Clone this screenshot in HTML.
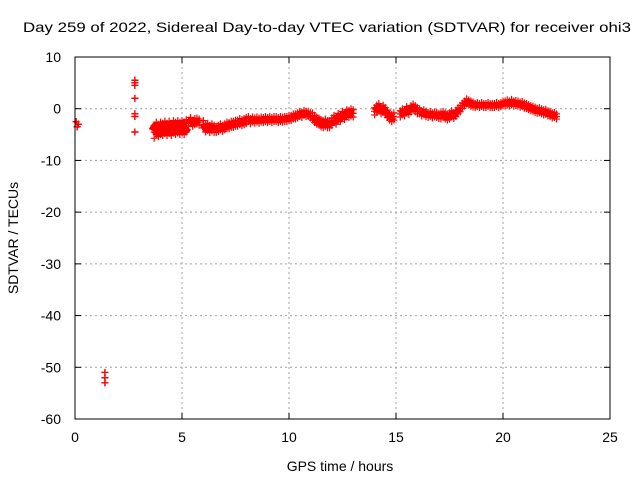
<!DOCTYPE html>
<html><head><meta charset="utf-8"><style>
body{margin:0;background:#fff}
svg text{font-family:"Liberation Sans",sans-serif;font-size:14px;fill:#000}
</style></head><body>
<svg id="c" width="640" height="480" xmlns="http://www.w3.org/2000/svg">
<rect width="640" height="480" fill="#fff"/>
<text x="327" y="32" text-anchor="middle" textLength="608" lengthAdjust="spacingAndGlyphs">Day 259 of 2022, Sidereal Day-to-day VTEC variation (SDTVAR) for receiver ohi3</text>
<text x="340" y="471" text-anchor="middle">GPS time / hours</text>
<text transform="translate(18,238) rotate(-90)" text-anchor="middle">SDTVAR / TECUs</text>
<g id="grid"></g><g id="ticks"></g><g id="pts"></g>
<rect x="75" y="57" width="535" height="362" fill="none" stroke="#000"/>
</svg>
<script>
const xTicks=[0,5,10,15,20,25];
const yTicks=[10,0,-10,-20,-30,-40,-50,-60];
const segStarts=[0.05,1.4,2.8,3.7,5.3,6.0,6.6,8.1,10.1,11.1,12.1,14.0,15.2,16.1,17.1,18.1,18.7,20.1,21.1];
const segSteps=[0.05,0,0,0.1,0.1,0.1,0.1,0.1,0.1,0.1,0.1,0.1,0.1,0.1,0.1,0.1,0.1,0.1,0.1];
const segSpread=[0,0,0,1.2,0.6,0.7,0.6,0.5,0.5,0.7,0.7,0.7,0.6,0.5,0.6,0.5,0.4,0.5,0.5];
const segValues=[
[-2.5,-3.5,-3],
[-51,-52,-53],
[5.5,5,4.5,2,-1,-1.5,-4.5],
[-4.5,-3.8,-4.2,-3.8,-4,-3.6,-4,-3.6,-4,-3.5,-3.8,-3.5,-3.8,-3.5,-3.8,-3.3],
[-2.8,-2.3,-2.8,-2.5,-2.4,-2.6],
[-3,-3.8,-3.5,-3.9,-3.6,-3.9],
[-4,-3.8,-3.5,-3.8,-3.5,-3.2,-3.3,-3,-3,-2.8,-2.8,-2.5,-2.7,-2.5,-2.3],
[-2,-2.4,-2.1,-2.3,-2.1,-2.3,-2.1,-2.2,-2,-2.2,-2,-2.2,-2,-2,-2.2,-2,-2.1,-2,-2,-1.8],
[-1.8,-1.5,-1.5,-1.3,-1,-1.2,-0.8,-1,-1,-1.3],
[-1.5,-2,-2.3,-2.5,-2.8,-3,-2.7,-3,-3,-2.5],
[-2,-2.3,-1.6,-1.8,-1.2,-1.4,-0.9,-1,-0.7,-0.9],
[-0.5,0,0.3,-0.3,0,-0.5,-1,-1.5,-1.8,-1.5],
[-1,-0.6,-0.8,-0.2,-0.5,0,0.3,0,-0.4],
[-0.5,-0.9,-0.7,-1,-1.2,-1,-1.3,-1.1,-1.2,-1.4],
[-1.4,-1.1,-1.4,-1.6,-1.4,-1,-1.3,-0.9,-0.4,0],
[0.6,1,1.4,1.2,1,0.8],
[0.6,0.8,0.6,0.8,0.6,0.6,0.8,0.6,0.6,0.6,0.8,0.6,0.8,1],
[1,1.2,1,1.3,1,1.1,1,0.8,0.9,0.6],
[0.5,0.3,0.1,0,-0.2,-0.4,-0.3,-0.5,-0.7,-0.6,-0.9,-1,-1.3,-1.2,-1.5]
];
const NS="http://www.w3.org/2000/svg";
const X0=75,X1=610,Y0=419,Y1=57;
function sx(v){return X0+(v-0)/(25-0)*(X1-X0);}
function sy(v){return Y0-(v+60)/(70)*(Y0-Y1);}
function mk(t,a,p){const e=document.createElementNS(NS,t);for(const k in a)e.setAttribute(k,a[k]);p.appendChild(e);return e;}
const grid=document.getElementById('grid'),ticks=document.getElementById('ticks'),pts=document.getElementById('pts');
xTicks.forEach(v=>{const x=sx(v);
 if(v>0&&v<25){const g=mk('line',{x1:x,x2:x,y1:Y1,y2:Y0,stroke:'#a0a0a0','stroke-dasharray':'2,3'},grid);
 
 }
 mk('line',{x1:x,x2:x,y1:Y0,y2:Y0-6,stroke:'#000'},ticks);
 mk('line',{x1:x,x2:x,y1:Y1,y2:Y1+6,stroke:'#000'},ticks);
 const t=mk('text',{x:x,y:Y0+23,'text-anchor':'middle'},ticks);t.textContent=v;
 
 
});
yTicks.forEach(v=>{const y=sy(v);
 if(v<10&&v>-60){const g=mk('line',{x1:X0,x2:X1,y1:y,y2:y,stroke:'#a0a0a0','stroke-dasharray':'2,3'},grid);
 
 }
 mk('line',{x1:X0,x2:X0+6,y1:y,y2:y,stroke:'#000'},ticks);
 mk('line',{x1:X1,x2:X1-6,y1:y,y2:y,stroke:'#000'},ticks);
 const t=mk('text',{x:X0-14,y:y+5,'text-anchor':'end'},ticks);t.textContent=v;
 
 
});
segValues.forEach((ys,si)=>{
 const sp=segSpread[si];
 if(sp>0){
  const d=ys.map((v,i)=>(i?'L':'M')+sx(segStarts[si]+i*segSteps[si])+','+sy(v)).join('');
  const pl=mk('path',{d:d,stroke:'#f00','stroke-width':Math.max(2,sp*2*(Y0-Y1)/70),fill:'none','stroke-linejoin':'round'},pts);
  
  
 }
 ys.forEach((v,i)=>{
 const x=sx(segStarts[si]+i*segSteps[si]);
 [v-sp,v,v+sp].forEach(w=>{const y=sy(w);
 const p=mk('path',{d:`M${x-3.5},${y}h7M${x},${y-3.5}v7`,stroke:'#f00','stroke-width':1.2,fill:'none'},pts);
 
 
 });
});});
</script>
</body></html>
